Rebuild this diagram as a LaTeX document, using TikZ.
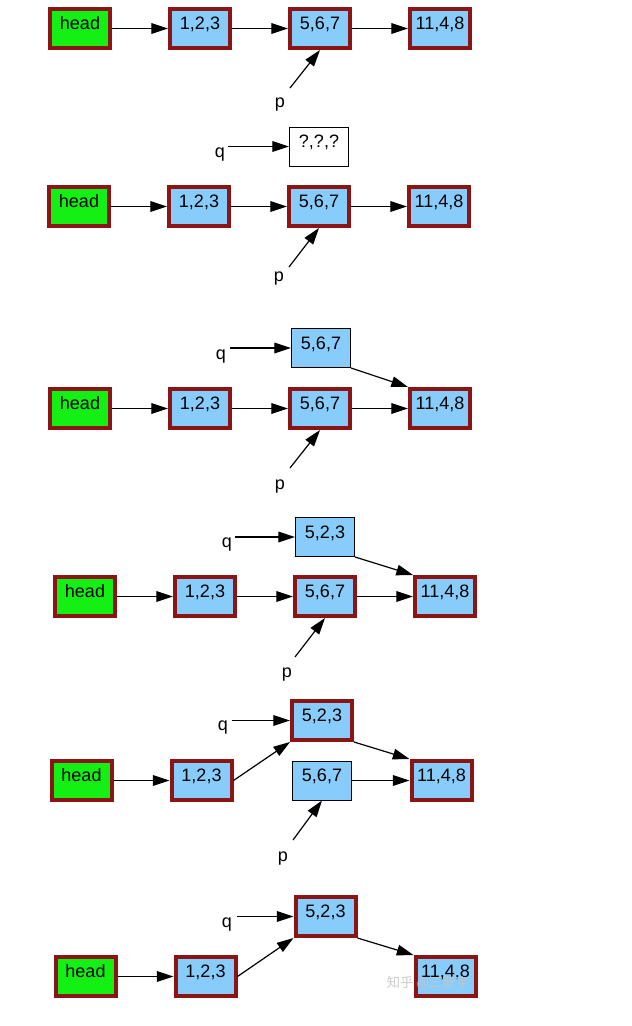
\documentclass[tikz,border=0pt]{standalone}
\usepackage{fontspec}
\setmainfont{Liberation Sans}
\newfontfamily\cjk{Noto Sans CJK SC}
\usetikzlibrary{arrows.meta}
\definecolor{boxred}{RGB}{139,20,20}
\definecolor{boxblue}{RGB}{135,204,250}
\definecolor{boxgreen}{RGB}{20,240,20}
\begin{document}
\begin{tikzpicture}[x=0.75pt,y=-0.75pt,
 every node/.style={font=\fontsize{13.5}{16}\selectfont, inner sep=0pt},
 boxtext/.style={text height=9.8pt, text depth=7.6pt},
 thickbox/.style={boxtext, draw=boxred, line width=3pt, minimum width=45pt, minimum height=29.25pt},
 bluebox/.style={thickbox, fill=boxblue},
 headbox/.style={thickbox, fill=boxgreen},
 thinblue/.style={boxtext, draw=black, line width=0.75pt, fill=boxblue, minimum width=44.25pt, minimum height=29.25pt},
 thinwhite/.style={thinblue, fill=white},
 lbl/.style={anchor=base},
 link/.style={draw=black, line width=0.9pt, -{Triangle[length=12.5pt,width=8pt]}},
]
\fill[white] (0,0) rectangle (632,1026);
\useasboundingbox (0,0) rectangle (632,1026);

% ---------- panel 1
\node[headbox] (h1) at (80,28.5) {head};
\node[bluebox] (a1) at (200,28.5) {1,2,3};
\node[bluebox] (b1) at (320,28.5) {5,6,7};
\node[bluebox] (c1) at (440,28.5) {11,4,8};
\node[lbl] (p1) at (280,107) {p};
\coordinate (ps1) at (290,88);
\draw[link] (h1) -- (a1);
\draw[link] (a1) -- (b1);
\draw[link] (b1) -- (c1);
\draw[link] (ps1) -- (b1.south);

% ---------- panel 2
\node[headbox] (h2) at (79,206.5) {head};
\node[bluebox] (a2) at (199,206.5) {1,2,3};
\node[bluebox] (b2) at (319,206.5) {5,6,7};
\node[bluebox] (c2) at (439,206.5) {11,4,8};
\node[thinwhite] (qb2) at (319,146.5) {?,?,?};
\node[lbl] (q2) at (220,157) {q};
\coordinate (qs2) at (228,146.5);
\node[lbl] (p2) at (279,281) {p};
\coordinate (ps2) at (289,267);
\draw[link] (h2) -- (a2);
\draw[link] (a2) -- (b2);
\draw[link] (b2) -- (c2);
\draw[link] (qs2) -- (qb2.west);
\draw[link] (ps2) -- (b2.south);

% ---------- panel 3
\node[headbox] (h3) at (80,408.5) {head};
\node[bluebox] (a3) at (200,408.5) {1,2,3};
\node[bluebox] (b3) at (320,408.5) {5,6,7};
\node[bluebox] (c3) at (440,408.5) {11,4,8};
\node[thinblue] (qb3) at (321,348) {5,6,7};
\node[lbl] (q3) at (221,359) {q};
\coordinate (qs3) at (230,348);
\node[lbl] (p3) at (280,489) {p};
\coordinate (ps3) at (290,468);
\draw[link] (h3) -- (a3);
\draw[link] (a3) -- (b3);
\draw[link] (b3) -- (c3);
\draw[link] (qs3) -- (qb3.west);
\draw[link] (qb3.south east) -- (c3.north west);
\draw[link] (ps3) -- (b3.south);

% ---------- panel 4
\node[headbox] (h4) at (85,596.5) {head};
\node[bluebox] (a4) at (205,596.5) {1,2,3};
\node[bluebox] (b4) at (325,596.5) {5,6,7};
\node[bluebox] (c4) at (445,596.5) {11,4,8};
\node[thinblue] (qb4) at (325,537) {5,2,3};
\node[lbl] (q4) at (227,547) {q};
\coordinate (qs4) at (235,537);
\node[lbl] (p4) at (287,677) {p};
\coordinate (ps4) at (295,657);
\draw[link] (h4) -- (a4);
\draw[link] (a4) -- (b4);
\draw[link] (b4) -- (c4);
\draw[link] (qs4) -- (qb4.west);
\draw[link] (qb4.south east) -- (c4.north west);
\draw[link] (ps4) -- (b4.south);

% ---------- panel 5
\node[headbox] (h5) at (81.5,780.5) {head};
\node[bluebox] (a5) at (201.5,780.5) {1,2,3};
\node[thinblue] (d5) at (322,780.5) {5,6,7};
\node[bluebox] (c5) at (441.5,780.5) {11,4,8};
\node[bluebox] (qb5) at (322,720.5) {5,2,3};
\node[lbl] (q5) at (223,730) {q};
\coordinate (qs5) at (232,720.5);
\node[lbl] (p5) at (283,861) {p};
\coordinate (ps5) at (293,840);
\draw[link] (h5) -- (a5);
\draw[link] (a5.east) -- (qb5.south west);
\draw[link] (qb5.south east) -- (c5.north west);
\draw[link] (d5) -- (c5);
\draw[link] (qs5) -- (qb5.west);
\draw[link] (ps5) -- (d5.south);

% ---------- panel 6
\node[headbox] (h6) at (85.5,976.5) {head};
\node[bluebox] (a6) at (205.5,976.5) {1,2,3};
\node[bluebox] (qb6) at (325.5,916.5) {5,2,3};
\node[bluebox] (c6) at (445.5,976.5) {11,4,8};
\node[lbl] (q6) at (227,927) {q};
\coordinate (qs6) at (237,916.5);
\draw[link] (h6) -- (a6);
\draw[link] (a6.east) -- (qb6.south west);
\draw[link] (qb6.south east) -- (c6.north west);
\draw[link] (qs6) -- (qb6.west);

% watermark
\node[font=\cjk\fontsize{10}{12}\selectfont, text=gray!45, opacity=0.9] (wm) at (428,983) {知乎 @三新宇};
\end{tikzpicture}
\end{document}
